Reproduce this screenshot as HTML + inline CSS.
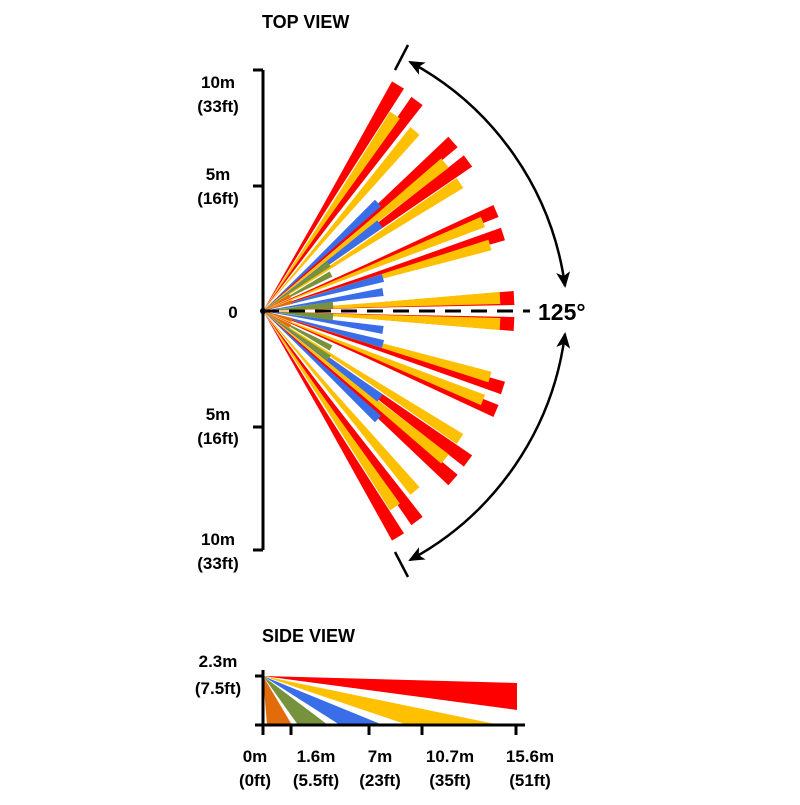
<!DOCTYPE html>
<html><head><style>
body{margin:0;background:#fff}
svg text{font-family:"Liberation Sans",sans-serif;font-weight:bold;fill:#000}
</style></head><body>
<svg id="s" width="800" height="800" xmlns="http://www.w3.org/2000/svg">
<defs>
<marker id="ah" markerWidth="16" markerHeight="14" refX="14" refY="7" orient="auto-start-reverse" markerUnits="userSpaceOnUse"><path d="M0,0 L16,7 L0,14 L4,7 z" fill="#000"/></marker>
</defs>
<g id="beams"></g>
<g stroke="#000" stroke-width="3" fill="none">
<line x1="263" y1="70" x2="263" y2="550"/>
<line x1="253" y1="70" x2="263" y2="70"/>
<line x1="253" y1="186" x2="263" y2="186"/>
<line x1="253" y1="427" x2="263" y2="427"/>
<line x1="253" y1="550" x2="263" y2="550"/>
<line x1="395" y1="70" x2="408" y2="45" stroke-width="2.5"/>
<line x1="395" y1="552" x2="408" y2="577" stroke-width="2.5"/>
<path d="M410,62 A300,300 0 0 1 565,286" stroke-width="2.5" marker-start="url(#ah)" marker-end="url(#ah)"/>
<path d="M565,334 A300,300 0 0 1 410,560" stroke-width="2.5" marker-start="url(#ah)" marker-end="url(#ah)"/>
</g>
<line x1="263" y1="311" x2="530" y2="311" stroke="#000" stroke-width="3" stroke-dasharray="16,10"/>
<circle cx="263" cy="311" r="3" fill="#000"/>
<text x="262" y="28" font-size="18">TOP VIEW</text>
<text x="218" y="88" font-size="17" text-anchor="middle">10m</text>
<text x="218" y="112" font-size="17" text-anchor="middle">(33ft)</text>
<text x="218" y="180" font-size="17" text-anchor="middle">5m</text>
<text x="218" y="204" font-size="17" text-anchor="middle">(16ft)</text>
<text x="233" y="318" font-size="17" text-anchor="middle">0</text>
<text x="218" y="420" font-size="17" text-anchor="middle">5m</text>
<text x="218" y="444" font-size="17" text-anchor="middle">(16ft)</text>
<text x="218" y="545" font-size="17" text-anchor="middle">10m</text>
<text x="218" y="569" font-size="17" text-anchor="middle">(33ft)</text>
<text x="538" y="320" font-size="23">125°</text>
<text x="262" y="642" font-size="18">SIDE VIEW</text>
<polygon points="263,676 517,683 517,710" fill="#f00"/>
<polygon points="263,676 500,725 408,725" fill="#ffc000"/>
<polygon points="263,676 383,725 340,725" fill="#3a6ee8"/>
<polygon points="263,676 328,725 298,725" fill="#76923c"/>
<polygon points="263,676 292,725 267,725" fill="#e36c0a"/>
<g stroke="#000" stroke-width="3">
<line x1="263" y1="670" x2="263" y2="727"/>
<line x1="255" y1="676" x2="263" y2="676"/>
<line x1="255" y1="725" x2="525" y2="725"/>
<line x1="263" y1="725" x2="263" y2="735"/>
<line x1="291" y1="725" x2="291" y2="735"/>
<line x1="369" y1="725" x2="369" y2="735"/>
<line x1="422" y1="725" x2="422" y2="735"/>
<line x1="516" y1="725" x2="516" y2="735"/>
</g>
<text x="218" y="667" font-size="17" text-anchor="middle">2.3m</text>
<text x="218" y="694" font-size="17" text-anchor="middle">(7.5ft)</text>
<text x="255" y="762" font-size="17" text-anchor="middle">0m</text>
<text x="255" y="786" font-size="17" text-anchor="middle">(0ft)</text>
<text x="316" y="762" font-size="17" text-anchor="middle">1.6m</text>
<text x="316" y="786" font-size="17" text-anchor="middle">(5.5ft)</text>
<text x="380" y="762" font-size="17" text-anchor="middle">7m</text>
<text x="380" y="786" font-size="17" text-anchor="middle">(23ft)</text>
<text x="450" y="762" font-size="17" text-anchor="middle">10.7m</text>
<text x="450" y="786" font-size="17" text-anchor="middle">(35ft)</text>
<text x="530" y="762" font-size="17" text-anchor="middle">15.6m</text>
<text x="530" y="786" font-size="17" text-anchor="middle">(51ft)</text>
</svg>
<script>
var R="#f00",Y="#ffc000",B="#3a6ee8",G="#76923c",O="#e36c0a";
var ox=263,oy=311;
var beams=[
[398,85,14,R],[417,101,14,R],[453,142,14,R],[468,161,14,R],[496,211,13,R],[503,234,13,R],[514,298,14,R],
[395,115,12,Y],[415,131,12,Y],[445,163,12,Y],[460,183,12,Y],[483,222,11,Y],[490,245,11,Y],[500,298,12,Y],
[378,203,9,B],[380,224,9,B],[383,278,8,B],[383,292,8,B],
[329,264,6,G],[331,274,6,G],[333,305,7,G],
[290,296,4,O],[292,302,4,O]
];
var g=document.getElementById("beams"),h="";
function poly(tx,ty,w,c){
 var dx=tx-ox,dy=ty-oy,L=Math.hypot(dx,dy),nx=-dy/L*w/2,ny=dx/L*w/2;
 var mx=ox+dx*0.45,my=oy+dy*0.45,f=0.35;
 return '<polygon points="'+ox+','+oy+' '+(mx+nx*f)+','+(my+ny*f)+' '+(tx+nx)+','+(ty+ny)+' '+(tx-nx)+','+(ty-ny)+' '+(mx-nx*f)+','+(my-ny*f)+'" fill="'+c+'"/>';
}
beams.forEach(function(b){h+=poly(b[0],b[1],b[2],b[3]);h+=poly(b[0],2*oy-b[1],b[2],b[3]);});
g.innerHTML=h;
</script>
</body></html>
